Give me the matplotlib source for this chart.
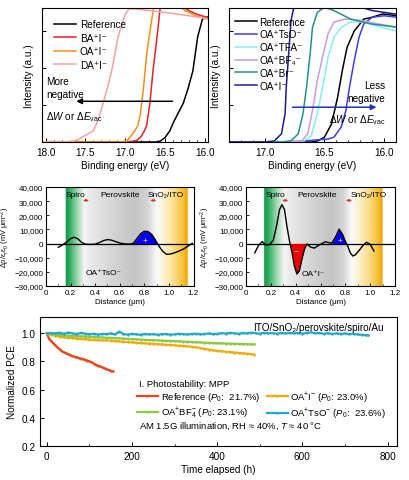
import numpy as np
import matplotlib
matplotlib.use("Agg")
import matplotlib.pyplot as plt
from matplotlib.colors import to_rgb
from matplotlib.ticker import MultipleLocator, FuncFormatter

plt.rcParams['font.family'] = ['Liberation Sans', 'DejaVu Sans']
plt.rcParams['mathtext.fontset'] = 'custom'
plt.rcParams['mathtext.rm'] = 'Liberation Sans'
plt.rcParams['mathtext.it'] = 'Liberation Sans:italic'
plt.rcParams['mathtext.bf'] = 'Liberation Sans:bold'
plt.rcParams['axes.linewidth'] = 0.8

# ---------------- data: UPS secondary-electron cut-off (left) ----------------
ref_L_x = [18.0, 16.70, 16.60, 16.556, 16.50, 16.44, 16.39, 16.33, 16.27, 16.21, 16.15, 16.09, 16.03, 15.96]
ref_L_y = [0.0, 0.0, 0.0, 0.03, 0.12, 0.30, 0.55, 0.80, 1.05, 1.45, 1.92, 2.84, 3.32, 3.38]
ba_x = [18.0, 17.0, 16.90, 16.85, 16.80, 16.76, 16.73, 16.69, 16.65, 16.60, 16.56, 16.50, 16.40, 16.30, 16.20, 16.10, 15.96]
ba_y = [0.0, 0.0, 0.02, 0.05, 0.15, 0.30, 0.45, 1.05, 1.95, 2.84, 3.65, 4.0, 3.85, 3.70, 3.55, 3.45, 3.36]
oa_x = [18.0, 17.05, 16.98, 16.94, 16.88, 16.84, 16.81, 16.77, 16.73, 16.67, 16.63, 16.50, 16.35, 16.25, 16.10, 15.96]
oa_y = [0.0, 0.0, 0.03, 0.13, 0.30, 0.45, 0.76, 1.48, 2.38, 3.27, 3.8, 4.0, 3.75, 3.55, 3.40, 3.32]
da_x = [18.0, 17.75, 17.66, 17.60, 17.50, 17.40, 17.34, 17.28, 17.22, 17.17, 17.09, 17.00, 16.95, 16.85, 16.50, 16.20, 15.96]
da_y = [0.0, 0.0, 0.02, 0.06, 0.18, 0.30, 0.60, 1.03, 1.50, 1.92, 2.84, 3.45, 3.60, 3.59, 3.50, 3.41, 3.33]

# ---------------- data: right UPS panel ----------------
ref_R_x = [17.3, 16.70, 16.60, 16.556, 16.50, 16.44, 16.39, 16.35, 16.31, 16.25, 16.17, 16.10, 16.01, 15.89]
ref_R_y = [0.0, 0.0, 0.0, 0.03, 0.13, 0.49, 1.20, 1.93, 2.56, 3.00, 3.32, 3.37, 3.46, 3.41]
tso_x = [17.3, 16.90, 16.70, 16.55, 16.47, 16.42, 16.36, 16.32, 16.29, 16.25, 16.21, 16.17, 16.10, 16.00, 15.89]
tso_y = [0.0, 0.0, 0.02, 0.06, 0.08, 0.13, 0.40, 0.85, 1.48, 2.20, 2.83, 3.19, 3.37, 3.41, 3.37]
tfa_x = [17.3, 16.75, 16.67, 16.61, 16.56, 16.51, 16.47, 16.42, 16.36, 16.28, 16.17, 16.03, 15.89]
tfa_y = [0.0, 0.0, 0.03, 0.17, 0.76, 1.57, 2.29, 2.83, 3.10, 3.24, 3.24, 3.10, 3.00]
bf4_x = [17.3, 16.78, 16.69, 16.64, 16.60, 16.56, 16.51, 16.47, 16.42, 16.33, 16.22, 16.10, 15.89]
bf4_y = [0.0, 0.0, 0.03, 0.22, 0.85, 1.66, 2.38, 2.92, 3.24, 3.32, 3.30, 3.22, 3.10]
br_x = [17.3, 16.86, 16.78, 16.72, 16.68, 16.65, 16.62, 16.60, 16.56, 16.50, 16.42, 16.28, 16.11, 15.89]
br_y = [0.0, 0.0, 0.03, 0.22, 0.76, 1.48, 2.38, 3.10, 3.50, 3.64, 3.55, 3.32, 3.19, 3.10]
oai_x = [17.3, 17.00, 16.92, 16.86, 16.83, 16.82, 16.80, 16.78, 16.75, 16.60, 16.40, 16.25, 16.10, 15.89]
oai_y = [0.0, 0.0, 0.03, 0.22, 0.76, 1.48, 2.38, 3.28, 3.73, 4.2, 4.0, 3.70, 3.55, 3.45]

# ---------------- data: charge-density profiles ----------------
tso_d = [0.10, 0.13, 0.17, 0.20, 0.23, 0.26, 0.29, 0.32, 0.36, 0.40, 0.44, 0.47, 0.50, 0.53, 0.56,
         0.60, 0.64, 0.68, 0.71, 0.74, 0.77, 0.80, 0.83, 0.86, 0.89, 0.92, 0.95, 0.98, 1.01, 1.04,
         1.08, 1.12, 1.16, 1.19]
tso_v = [-2600, -1200, 1200, 3500, 4500, 3300, 800, -400, -600, -400, 900, 2200, 2800, 2500, 1600,
         400, -200, -400, 200, 3500, 7000, 8700, 8500, 6500, 2500, -2000, -5500, -7600, -7400, -6700,
         -5400, -3800, -1500, 200]
oai_d = [0.07, 0.10, 0.13, 0.16, 0.19, 0.22, 0.245, 0.27, 0.29, 0.31, 0.33, 0.35, 0.37, 0.39, 0.41,
         0.43, 0.45, 0.47, 0.49, 0.52, 0.55, 0.58, 0.61, 0.64, 0.66, 0.69, 0.72, 0.75, 0.78, 0.80,
         0.82, 0.84, 0.86, 0.88, 0.91, 0.94, 0.97, 1.00, 1.03]
oai_v = [-6600, -1500, 1400, -1000, -800, 2500, 12000, 24000, 27500, 24000, 12000, 2000, -6000, -16000, -21500,
         -19000, -11000, -4000, -300, -2500, -3200, -1500, 0, 1300, 800, 200, 4500, 10200, 6000, 1500,
         -2000, -6500, -8800, -8000, -5000, -1500, 900, -500, -5200]

# ---------------- data: photostability ----------------
ref_t = list(range(0, 160, 5))
ref_pce = [1.000, 0.962, 0.945, 0.930, 0.915, 0.900, 0.885, 0.872, 0.865, 0.858, 0.852, 0.846, 0.838,
           0.833, 0.828, 0.824, 0.820, 0.817, 0.812, 0.806, 0.800, 0.793, 0.785, 0.777, 0.770, 0.764,
           0.758, 0.752, 0.746, 0.740, 0.734, 0.729]
oai_t = list(range(0, 490, 10)) + [487]
oai_pce = [1.000, 0.990, 0.982, 0.975, 0.972, 0.968, 0.966, 0.962, 0.960, 0.957, 0.955, 0.953, 0.951,
           0.949, 0.950, 0.947, 0.944, 0.942, 0.939, 0.937, 0.935, 0.933, 0.930, 0.928, 0.927, 0.925,
           0.922, 0.920, 0.918, 0.917, 0.914, 0.912, 0.910, 0.907, 0.904, 0.900, 0.895, 0.889, 0.884,
           0.879, 0.875, 0.872, 0.868, 0.866, 0.863, 0.860, 0.857, 0.855, 0.852, 0.849]
bf4_t = list(range(0, 490, 10)) + [487]
bf4_pce = [1.000, 0.995, 0.990, 0.986, 0.984, 0.982, 0.980, 0.979, 0.978, 0.976, 0.975, 0.973, 0.971,
           0.970, 0.968, 0.967, 0.965, 0.964, 0.962, 0.960, 0.958, 0.957, 0.955, 0.953, 0.952, 0.950,
           0.949, 0.948, 0.946, 0.945, 0.944, 0.942, 0.941, 0.939, 0.938, 0.936, 0.935, 0.933, 0.932,
           0.930, 0.929, 0.928, 0.927, 0.926, 0.925, 0.924, 0.923, 0.922, 0.921, 0.920]
tso_t = list(range(0, 760, 10)) + [755]
tso_pce = [1.000, 1.002, 0.998, 1.004, 0.996, 1.005, 0.999, 0.994, 1.003, 0.997, 0.992, 0.996, 0.990,
           0.995, 0.993, 0.998, 0.991, 1.012, 0.994, 0.990, 0.996, 0.992, 0.989, 0.995, 0.991, 0.994,
           0.989, 0.993, 0.995, 0.990, 0.992, 0.996, 0.993, 0.991, 0.994, 0.997, 0.992, 0.995, 0.998,
           0.993, 0.996, 1.001, 0.997, 1.003, 0.999, 0.996, 1.002, 0.998, 1.004, 1.000, 0.997, 1.003,
           0.999, 1.001, 0.996, 1.002, 0.998, 1.003, 0.999, 1.001, 0.997, 1.003, 1.007, 0.999, 1.002,
           0.996, 1.000, 0.995, 0.999, 0.994, 0.998, 0.993, 0.996, 0.991, 0.989, 0.986, 0.984]

W, H = 409, 481
fig = plt.figure(figsize=(W / 100, H / 100), dpi=100)


def rect(x0, y0, x1, y1):
    return [x0 / W, 1 - y1 / H, (x1 - x0) / W, (y1 - y0) / H]


FS = 7.2

# ---------- top-left ----------
ax1 = fig.add_axes(rect(42, 9, 208, 143))
ax1.plot(ref_L_x, ref_L_y, color='black', lw=1.1, label='Reference')
ax1.plot(ba_x, ba_y, color='#e62129', lw=1.1, label='BA⁺I⁻')
ax1.plot(oa_x, oa_y, color='#f39019', lw=1.1, label='OA⁺I⁻')
ax1.plot(da_x, da_y, color='#f6a3a0', lw=1.1, label='DA⁺I⁻')
ax1.set_xlim(18.046, 15.96)
ax1.set_ylim(0, 3.62)
ax1.xaxis.set_major_locator(MultipleLocator(0.5))
ax1.xaxis.set_minor_locator(MultipleLocator(0.1))
ax1.xaxis.set_major_formatter(FuncFormatter(lambda v, p: f"{v:.1f}"))
ax1.set_yticks([1, 2, 3])
ax1.set_yticklabels([])
ax1.tick_params(direction='in', labelsize=FS, length=3, width=0.7)
ax1.tick_params(which='minor', direction='in', length=1.6, width=0.6)
ax1.set_xlabel('Binding energy (eV)', fontsize=FS, labelpad=2)
ax1.set_ylabel('Intensity (a.u.)', fontsize=FS, labelpad=2)
ax1.legend(loc='upper left', fontsize=FS, frameon=False, handlelength=2.2, handletextpad=0.4,
           labelspacing=0.35, borderaxespad=0.3, bbox_to_anchor=(0.03, 0.97))
ax1.text(17.99, 1.47, 'More\nnegative', fontsize=FS, ha='left', va='center', linespacing=1.3)
ax1.annotate('', xy=(17.65, 1.10), xytext=(16.37, 1.10),
             arrowprops=dict(arrowstyle='-|>', color='black', lw=1.1, mutation_scale=8))
ax1.text(17.99, 0.70, r'Δ$W$ or Δ$E_{\mathrm{vac}}$', fontsize=FS, ha='left', va='center')

# ---------- top-right ----------
ax2 = fig.add_axes(rect(229, 9, 396, 143))
ax2.plot(ref_R_x, ref_R_y, color='black', lw=1.1, label='Reference')
ax2.plot(tso_x, tso_y, color='#3d3df2', lw=1.1, label='OA⁺TsO⁻')
ax2.plot(tfa_x, tfa_y, color='#86f0ee', lw=1.1, label='OA⁺TFA⁻')
ax2.plot(bf4_x, bf4_y, color='#c99be8', lw=1.1, label='OA⁺BF₄⁻')
ax2.plot(br_x, br_y, color='#22918a', lw=1.1, label='OA⁺Br⁻')
ax2.plot(oai_x, oai_y, color='#1c1c8e', lw=1.1, label='OA⁺I⁻')
ax2.set_xlim(17.3, 15.9)
ax2.set_ylim(0, 3.62)
ax2.xaxis.set_major_locator(MultipleLocator(0.5))
ax2.xaxis.set_minor_locator(MultipleLocator(0.1))
ax2.xaxis.set_major_formatter(FuncFormatter(lambda v, p: f"{v:.1f}"))
ax2.set_yticks([1, 2, 3])
ax2.set_yticklabels([])
ax2.tick_params(direction='in', labelsize=FS, length=3, width=0.7)
ax2.tick_params(which='minor', direction='in', length=1.6, width=0.6)
ax2.set_xlabel('Binding energy (eV)', fontsize=FS, labelpad=2)
ax2.set_ylabel('Intensity (a.u.)', fontsize=FS, labelpad=2)
ax2.legend(loc='upper left', fontsize=FS, frameon=False, handlelength=2.2, handletextpad=0.2,
           labelspacing=0.28, borderaxespad=0.2, bbox_to_anchor=(0.0, 0.98))
ax2.text(15.99, 1.36, 'Less\nnegative', fontsize=FS, ha='right', va='center', linespacing=1.3,
         multialignment='right')
ax2.annotate('', xy=(16.04, 0.94), xytext=(16.79, 0.94),
             arrowprops=dict(arrowstyle='-|>', color='#2233b5', lw=1.1, mutation_scale=8))
ax2.text(15.99, 0.62, r'Δ$W$ or Δ$E_{\mathrm{vac}}$', fontsize=FS, ha='right', va='center')


# ---------- middle panels ----------
def gradient_bg(ax, stops):
    xs = np.linspace(0, 1.2, 600)
    pos = [s[0] for s in stops]
    cols = np.array([to_rgb(s[1]) for s in stops])
    img = np.ones((1, xs.size, 3))
    for c in range(3):
        img[0, :, c] = np.interp(xs, pos, cols[:, c], left=1.0, right=1.0)
    inside = (xs >= pos[0]) & (xs <= pos[-1])
    img[0, ~inside, :] = 1.0
    ax.imshow(img, extent=[0, 1.2, -30000, 40000], aspect='auto', zorder=0, interpolation='bilinear')


def mid_axes(ax, stops, d, v, fills, label, lx, ly, sep_x, lab_x):
    gradient_bg(ax, stops)
    ax.set_xlim(0, 1.2)
    ax.set_ylim(-30000, 40000)
    ax.axhline(0, color='black', lw=0.9, zorder=2)
    d = np.array(d)
    v = np.array(v)
    for (a, b, col, sym, sy) in fills:
        m = (d >= a) & (d <= b)
        ax.fill_between(d, v, 0, where=m, color=col, interpolate=True, zorder=3, lw=0)
    ax.plot(d, v, color='black', lw=1.0, zorder=4)
    for (a, b, col, sym, sy) in fills:
        ax.text(sy[0], sy[1], sym, color='white', fontsize=6, ha='center', va='center', zorder=5)
    ax.text(lx, ly, label, fontsize=6, ha='center', va='center', zorder=5)
    for name, x in zip(['Spiro', 'Perovskite', 'SnO₂/ITO'], lab_x):
        ax.text(x, 35000, name, fontsize=6, ha='center', va='center', zorder=5)
    for x in sep_x:
        ax.annotate('', xy=(x - 0.024, 30500), xytext=(x + 0.024, 30500),
                    arrowprops=dict(arrowstyle='<->', color='#e03020', lw=0.7, mutation_scale=3,
                                    shrinkA=0, shrinkB=0))
    ax.xaxis.set_major_locator(MultipleLocator(0.2))
    ax.xaxis.set_minor_locator(MultipleLocator(0.1))
    ax.yaxis.set_major_locator(MultipleLocator(10000))
    ax.xaxis.set_major_formatter(FuncFormatter(lambda val, p: '0' if abs(val) < 1e-9 else f"{val:.1f}"))
    ax.yaxis.set_major_formatter(FuncFormatter(lambda val, p: f"{int(round(val)):,}".replace('-', '−')))
    ax.tick_params(direction='in', labelsize=5.8, length=2.5, width=0.6, pad=2)
    ax.tick_params(which='minor', direction='in', length=1.4, width=0.5)
    ax.set_xlabel('Distance (μm)', fontsize=5.8, labelpad=1.5)
    ax.set_ylabel(r'Δρ/ε$_{\mathrm{r}}$ε$_0$ (mV μm$^{-2}$)', fontsize=5.3, labelpad=1.5)


stops_L = [(0.16, '#0b9447'), (0.20, '#3cb36a'), (0.26, '#a6dbb4'), (0.31, '#f4f6f4'),
           (0.34, '#ececec'), (0.50, '#d9d9d9'), (0.72, '#c4c4c4'), (0.82, '#d2d2d2'),
           (0.90, '#fafafa'), (0.95, '#fdf3d6'), (1.04, '#fadc8a'), (1.11, '#f6c237'), (1.15, '#f0a500')]
stops_R = [(0.145, '#0b9447'), (0.19, '#3cb36a'), (0.25, '#a6dbb4'), (0.31, '#f4f6f4'),
           (0.34, '#ececec'), (0.48, '#d9d9d9'), (0.68, '#c4c4c4'), (0.78, '#d2d2d2'),
           (0.85, '#fafafa'), (0.90, '#fdf3d6'), (0.99, '#fadc8a'), (1.06, '#f6c237'), (1.10, '#f0a500')]

ax3 = fig.add_axes(rect(46, 188, 193.5, 287))
mid_axes(ax3, stops_L, tso_d, tso_v,
         [(0.705, 0.895, '#0000ee', '+', (0.805, 2500))],
         'OA⁺TsO⁻', 0.47, -20300, [0.325, 0.873], [0.24, 0.60, 0.97])

ax4 = fig.add_axes(rect(246, 188, 395, 287))
mid_axes(ax4, stops_R, oai_d, oai_v,
         [(0.355, 0.49, '#ee0000', '−', (0.40, -5000)),
          (0.69, 0.82, '#0000ee', '+', (0.76, 2500))],
         'OA⁺I⁻', 0.54, -21500, [0.316, 0.83], [0.235, 0.57, 0.99])

# ---------- bottom panel ----------
ax5 = fig.add_axes(rect(40, 318, 397, 447))
FSB = 6.8
kw = dict(lw=1.6, marker='o', ms=1.7, mew=0)
ax5.plot(ref_t, ref_pce, color='#e9481e', label='Reference ($P_0$:  21.7%)', **kw)
ax5.plot(oai_t, oai_pce, color='#f2aa05', label=r'OA$^{+}$I$^{-}$ ($P_0$: 23.0%)', **kw)
ax5.plot(bf4_t, bf4_pce, color='#8dc843', label=r'OA$^{+}$BF$_{4}^{-}$ ($P_0$: 23.1%)', **kw)
ax5.plot(tso_t, tso_pce, color='#22a8cf', label=r'OA$^{+}$TsO$^{-}$ ($P_0$:  23.6%)', **kw)
h, l = ax5.get_legend_handles_labels()
order = [0, 2, 1, 3]
ax5.legend([h[i] for i in order], [l[i] for i in order], ncol=2, loc='upper left',
           bbox_to_anchor=(0.272, 0.44), fontsize=FSB, frameon=False, handlelength=2.2,
           handletextpad=0.3, columnspacing=0.7, labelspacing=0.2, borderaxespad=0, borderpad=0)
ax5.text(0.276, 0.485, 'I. Photostability: MPP', transform=ax5.transAxes, fontsize=FSB,
         ha='left', va='center')
ax5.text(0.276, 0.16, r'AM 1.5G illumination, RH ≈ 40%, $T$ ≈ 40 °C', transform=ax5.transAxes,
         fontsize=FSB, ha='left', va='center')
ax5.text(0.962, 0.925, 'ITO/SnO₂/perovskite/spiro/Au', transform=ax5.transAxes, fontsize=FS,
         ha='right', va='center')
ax5.set_xlim(-16, 822)
ax5.set_ylim(0.2, 1.115)
ax5.xaxis.set_major_locator(MultipleLocator(200))
ax5.xaxis.set_minor_locator(MultipleLocator(100))
ax5.yaxis.set_major_locator(MultipleLocator(0.2))
ax5.yaxis.set_major_formatter(FuncFormatter(lambda v, p: f"{v:.1f}"))
ax5.tick_params(direction='in', labelsize=FS, length=3, width=0.7)
ax5.tick_params(which='minor', direction='in', length=1.6, width=0.6)
ax5.set_xlabel('Time elapsed (h)', fontsize=FS, labelpad=2)
ax5.set_ylabel('Normalized PCE', fontsize=FS, labelpad=3)

fig.savefig('out.png', dpi=100)
